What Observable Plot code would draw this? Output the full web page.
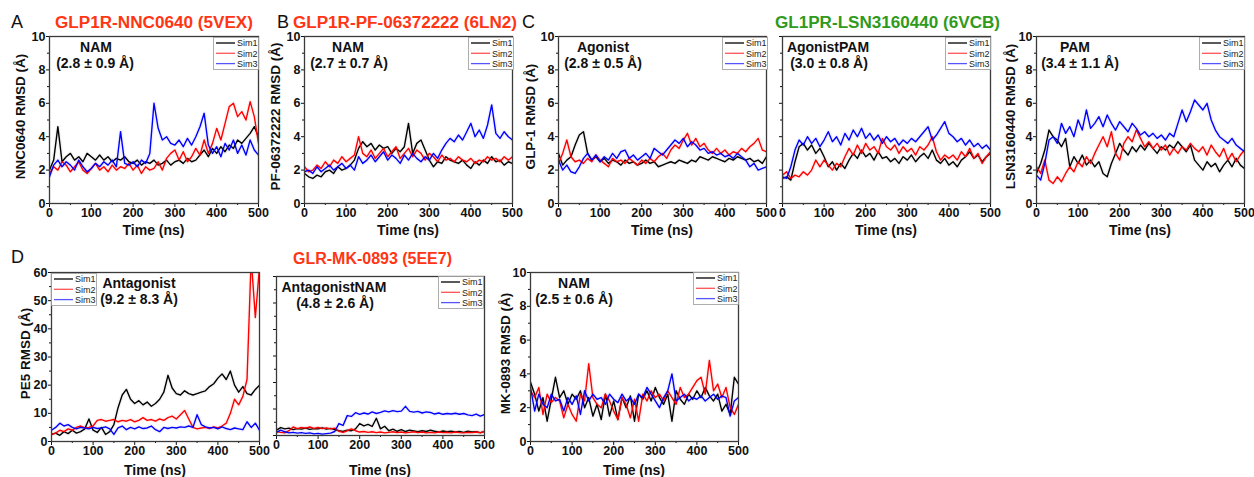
<!DOCTYPE html>
<html><head><meta charset="utf-8">
<script src="https://cdn.jsdelivr.net/npm/d3@7"></script>
<script src="https://cdn.jsdelivr.net/npm/@observablehq/plot@0.6"></script>
<style>
body{margin:0;background:#fff;}
#root{position:relative;width:1254px;height:477px;overflow:hidden;background:#fff;font-family:"Liberation Sans",Arial,sans-serif;}
.panel{position:absolute;}
#overlay{position:absolute;left:0;top:0;pointer-events:none;}
</style></head><body><div id="root"></div>
<script>
// ---------------- data (RMSD in Å, sampled every 10 ns) ----------------
const time = [0,10,20,30,40,50,60,70,80,90,100,110,120,130,140,150,160,170,180,190,200,210,220,230,240,250,260,270,280,290,300,310,320,330,340,350,360,370,380,390,400,410,420,430,440,450,460,470,480,490,500];
const simNames = ["Sim1","Sim2","Sim3"];

const A_sim1 = [2.0,2.6,4.6,2.5,2.8,3.0,2.6,2.8,2.5,3.0, 2.8,2.6,2.9,2.6,2.8,2.5,2.7,2.6,2.8,2.5, 2.4,2.6,2.3,2.5,2.4,2.6,2.3,2.4,2.6,2.3, 2.5,2.6,2.4,2.7,2.5,2.6,2.9,3.2,2.8,3.3, 3.0,3.4,3.1,3.5,3.3,3.8,3.6,3.9,4.2,4.6, 4.0];
const A_sim2 = [1.8,2.2,2.0,2.5,2.3,1.9,2.2,2.5,2.0,1.8, 2.1,2.4,2.0,2.2,1.9,2.3,2.0,2.2,2.1,2.4, 2.0,2.3,1.8,2.2,2.0,2.1,2.5,2.0,2.7,3.0, 3.2,2.6,3.1,2.5,2.8,3.3,2.9,3.8,3.0,3.6, 4.5,3.8,4.8,5.8,6.0,5.2,5.5,5.0,6.1,5.2, 3.6];
const A_sim3 = [1.6,2.3,2.6,2.2,2.5,2.3,2.0,2.6,2.2,1.9, 2.1,2.4,2.2,2.5,2.3,2.6,2.2,4.3,2.4,2.3, 2.5,2.2,2.6,2.4,3.0,6.0,4.5,3.8,4.0,3.6, 3.5,3.8,3.4,3.9,3.5,4.0,4.6,5.4,3.5,3.0, 3.4,2.8,3.6,3.2,3.8,3.0,3.5,2.9,3.8,3.2, 2.9];

const B_sim1 = [1.8,1.6,1.5,1.7,1.6,1.9,2.0,1.8,2.2,2.0, 2.1,2.3,2.6,3.3,3.7,3.4,3.6,3.2,3.5,3.3, 3.4,3.0,3.3,3.1,3.4,4.8,3.0,3.6,3.8,3.2, 2.6,2.2,2.5,2.4,2.8,2.6,2.5,2.4,2.6,2.3, 2.1,2.5,2.3,2.6,2.4,2.8,2.5,2.6,2.3,2.5, 2.4];
const B_sim2 = [2.2,1.9,2.0,2.3,2.1,2.5,2.2,2.6,2.4,2.8, 2.5,2.7,2.9,4.0,3.0,2.8,3.2,2.7,3.0,3.3, 2.8,3.1,3.4,2.7,3.0,3.3,2.8,3.2,3.0,2.6, 3.0,2.8,2.5,2.9,2.6,2.7,2.5,2.8,2.6,2.5, 2.7,2.4,2.6,2.5,2.8,2.6,2.7,2.5,2.8,2.6, 2.8];
const B_sim3 = [1.9,2.0,1.8,2.2,1.9,2.1,2.3,2.0,2.2,2.4, 2.1,2.3,2.0,2.8,2.4,2.6,2.9,2.5,2.8,3.1, 2.6,2.9,2.7,2.4,2.9,2.6,3.0,2.7,2.5,2.8, 2.6,3.0,2.7,3.2,3.6,3.9,3.7,4.1,3.8,4.3, 4.8,4.0,4.4,3.9,4.7,5.9,4.2,3.9,4.3,4.0, 3.8];

const C1_sim1 = [3.0,2.3,2.6,2.8,3.5,4.1,4.3,3.0,2.6,2.8, 2.5,2.7,2.4,2.6,2.5,2.3,2.6,2.4,2.5,2.3, 2.4,2.6,2.4,2.5,2.2,2.3,2.4,2.5,2.4,2.6, 2.5,2.4,2.6,2.5,2.8,2.7,2.6,2.8,2.7,2.6, 2.5,2.7,2.6,2.8,2.7,2.6,2.7,2.5,2.6,2.4, 2.8];
const C1_sim2 = [2.4,3.0,3.8,2.8,2.5,2.6,2.4,2.7,2.5,2.9, 2.6,2.4,2.2,2.7,2.5,2.6,2.4,2.7,2.5,2.3, 2.6,2.4,2.7,2.5,2.8,3.0,2.7,3.2,3.5,3.3, 3.8,4.2,3.5,3.9,3.4,3.6,3.2,3.0,3.3,3.0, 3.2,2.9,3.1,3.0,3.3,3.1,3.4,3.6,3.9,3.2, 3.1];
const C1_sim3 = [2.6,2.0,2.3,1.9,1.8,2.2,2.7,3.0,2.6,2.9, 2.5,2.8,2.6,3.0,2.7,3.1,3.2,2.7,2.9,2.6, 2.8,3.0,2.7,3.3,3.1,2.9,3.2,3.5,3.8,3.6, 3.9,3.4,3.7,3.5,3.2,3.3,3.0,3.1,2.9,3.0, 2.8,2.9,2.7,3.0,2.8,2.6,2.2,2.4,2.0,2.1, 2.2];

const C2_sim1 = [1.5,1.6,1.4,2.5,3.4,3.6,3.2,3.5,3.0,3.3, 2.8,2.2,2.5,2.0,2.4,2.1,2.6,3.0,2.7,3.2, 2.8,3.0,2.6,3.1,2.7,2.8,2.5,2.7,2.4,2.8, 2.6,2.9,2.5,2.8,3.0,2.7,3.2,2.6,2.4,2.7, 2.3,2.5,2.2,2.6,2.8,3.1,2.7,2.9,2.5,2.8, 3.0];
const C2_sim2 = [1.7,1.9,1.5,1.7,1.6,1.9,1.7,2.0,2.6,2.2, 2.6,2.3,2.0,2.4,2.2,2.8,3.3,2.9,3.5,3.0, 3.6,3.2,3.4,3.0,3.9,3.4,3.2,3.5,3.0,3.4, 3.1,3.3,2.9,3.4,3.2,3.5,4.0,3.1,2.6,2.9, 2.7,2.9,2.6,3.1,2.8,3.3,2.7,3.0,2.4,2.8, 3.1];
const C2_sim3 = [1.6,1.5,2.2,3.2,3.8,3.5,4.0,3.6,3.9,3.4, 3.8,4.3,3.7,4.0,3.5,4.2,3.8,4.4,4.0,4.5, 3.9,4.2,3.8,4.1,3.6,4.0,3.7,3.9,3.5,3.8, 3.6,3.9,3.7,4.0,4.3,4.6,3.8,4.1,4.5,4.9, 4.2,4.0,3.7,3.9,3.5,3.8,3.4,3.6,3.3,3.5, 3.2];

const C3_sim1 = [1.8,2.4,3.2,4.4,4.0,3.8,3.4,3.9,2.2,2.8, 2.4,2.9,2.3,2.6,2.2,2.5,1.8,1.6,2.4,3.0, 3.6,3.2,2.9,3.4,3.1,3.5,3.2,3.6,3.3,3.0, 3.4,3.2,3.5,3.3,3.7,3.4,3.1,3.5,2.6,2.3, 2.0,2.5,2.2,2.4,1.9,2.3,2.6,2.2,2.7,2.3, 2.1];
const C3_sim2 = [2.2,1.8,2.6,1.4,1.2,1.6,1.3,1.8,2.2,1.9, 2.5,2.2,2.8,2.4,3.0,3.5,4.0,3.4,4.3,3.0, 2.6,3.6,4.0,3.7,4.4,3.9,3.4,3.7,3.3,3.6, 3.2,3.5,2.9,3.3,3.0,3.4,3.2,3.6,3.3,3.1, 3.4,2.9,3.5,3.1,2.8,3.3,2.6,3.0,2.5,2.9, 3.2];
const C3_sim3 = [1.7,1.4,2.4,3.8,4.0,3.6,4.8,4.2,4.6,4.0, 5.0,4.4,5.6,4.5,4.8,5.2,4.6,5.3,4.8,4.4, 4.9,4.6,4.3,4.8,4.5,4.1,4.3,4.0,4.2,3.9, 4.1,3.8,4.2,4.0,4.8,5.6,4.9,5.5,6.2,5.9, 5.6,6.0,5.0,4.4,4.0,3.8,3.6,3.9,3.5,3.3, 3.1];

const D1_sim1 = [2.5,3.0,2.2,3.5,2.8,4.0,3.0,3.5,4.5,8.0, 4.0,3.2,5.0,2.5,3.5,6.0,12.0,16.5,18.5,15.0, 13.5,14.5,13.0,14.0,12.5,13.5,15.0,17.5,23.5,19.0, 17.0,16.5,18.0,17.0,16.5,17.0,17.5,18.0,19.5,20.5, 22.5,24.0,22.0,25.0,20.0,17.5,19.5,17.0,16.5,18.5, 20.0];
const D1_sim2 = [2.5,3.0,4.0,3.5,4.5,4.0,5.0,5.5,4.8,5.0, 5.5,7.5,7.8,7.2,7.5,7.8,7.0,7.5,7.2,7.8, 7.0,7.5,8.5,7.5,7.8,7.2,8.0,7.5,8.5,9.0, 8.0,9.5,11.0,8.0,5.0,4.5,4.8,5.0,4.6,5.2, 4.8,5.5,6.5,10.0,15.0,13.0,16.0,22.0,65.0,44.0, 62.0];
const D1_sim3 = [4.0,5.0,6.5,5.5,6.0,5.0,4.5,5.0,4.8,4.5, 5.0,4.6,4.8,5.2,4.5,2.5,4.8,5.5,4.2,5.0, 4.5,5.2,4.6,4.8,5.5,4.2,3.5,5.0,4.6,5.0, 4.8,5.2,5.0,5.5,5.0,9.5,6.0,5.2,4.8,5.0, 4.5,5.2,4.6,4.2,4.8,4.5,4.2,7.0,5.0,6.5, 4.0];

const D2_sim1 = [2.0,3.0,2.5,2.8,2.2,2.6,2.4,2.8,2.3,2.6, 2.5,2.9,2.4,2.7,2.2,1.8,1.5,2.0,1.8,2.5, 4.5,3.6,4.2,3.4,6.5,2.5,3.5,1.8,2.4,1.6, 2.2,1.5,2.0,1.7,1.4,1.8,1.5,2.0,1.6,1.3, 1.7,1.4,1.6,1.3,1.5,1.2,1.6,1.3,1.4,1.1, 1.5];
const D2_sim2 = [1.5,1.2,1.0,1.8,3.2,2.6,3.0,2.8,3.2,2.7, 3.0,2.6,2.9,2.5,2.8,1.6,1.2,1.8,2.5,1.8, 1.3,1.5,1.2,1.4,1.1,1.3,1.0,1.2,1.4,1.1, 1.3,1.0,1.2,1.4,1.1,1.3,1.0,1.2,1.0,1.3, 1.1,1.2,1.0,1.3,1.1,1.0,1.2,1.1,1.3,1.0, 1.6];
const D2_sim3 = [1.2,2.0,1.4,1.0,1.2,0.9,1.1,0.8,1.0,0.6, 0.8,0.5,0.7,0.9,1.5,4.5,3.8,7.5,7.2,8.6, 8.0,8.5,8.1,8.9,8.3,8.7,9.3,8.9,9.4,9.0, 9.2,11.0,9.1,8.8,9.1,8.5,8.9,8.7,8.1,8.5, 8.0,8.3,8.1,8.4,8.0,8.3,7.8,7.5,8.1,7.3, 7.9];

const D3_sim1 = [3.5,2.8,1.8,2.6,1.2,2.5,3.8,2.6,3.0,2.2, 2.8,2.5,3.0,2.0,2.6,1.5,2.2,1.3,2.8,1.5, 2.4,1.3,2.6,2.0,2.7,1.2,2.8,2.5,3.0,2.4, 3.2,2.6,2.2,2.8,1.2,3.0,2.5,2.2,2.8,2.5, 3.0,2.6,3.2,2.7,2.4,2.8,1.8,2.2,1.6,3.8, 3.4];
const D3_sim2 = [3.0,2.6,3.2,1.6,2.8,2.3,2.6,2.4,1.4,2.2, 1.6,1.2,2.8,2.4,4.6,2.6,2.2,2.0,2.8,2.4, 1.8,1.3,2.6,2.2,1.4,2.5,1.2,2.8,2.4,3.0, 2.6,2.8,2.4,3.0,2.6,2.2,3.2,2.6,2.8,3.2, 3.6,3.8,2.8,4.8,3.0,3.4,2.6,3.2,2.0,1.6, 2.2];
const D3_sim3 = [3.2,1.8,2.8,2.2,2.0,2.8,2.4,2.5,1.8,2.6, 2.2,2.7,1.6,3.0,2.4,2.8,2.5,2.6,2.2,2.8, 2.5,2.3,2.8,2.4,2.6,2.2,2.8,2.6,3.2,2.8, 2.4,2.0,2.6,3.0,4.0,2.4,2.6,2.8,2.4,2.6, 2.5,2.7,2.4,2.6,2.8,2.5,2.7,2.6,1.5,2.4, 2.6];

// tick values
const xMajor = [0,100,200,300,400,500];
const xMinor = [50,150,250,350,450];
const yMajor10 = [0,2,4,6,8,10];
const yMinor10 = [1,3,5,7,9];
const yMajor60 = [0,10,20,30,40,50,60];
const yMinor60 = [5,15,25,35,45,55];

// text content
const yLabels = {A:"NNC0640 RMSD (Å)", B:"PF-06372222 RMSD (Å)", C1:"GLP-1 RMSD (Å)", C2:"", C3:"LSN3160440 RMSD (Å)", D1:"PE5 RMSD (Å)", D2:"", D3:"MK-0893 RMSD (Å)"};
const states = {A:["NAM","(2.8 ± 0.9 Å)"], B:["NAM","(2.7 ± 0.7 Å)"], C1:["Agonist","(2.8 ± 0.5 Å)"], C2:["AgonistPAM","(3.0 ± 0.8 Å)"], C3:["PAM","(3.4 ± 1.1 Å)"], D1:["Antagonist","(9.2 ± 8.3 Å)"], D2:["AntagonistNAM","(4.8 ± 2.6 Å)"], D3:["NAM","(2.5 ± 0.6 Å)"]};
const titles = ["GLP1R-NNC0640 (5VEX)","GLP1R-PF-06372222 (6LN2)","GL1PR-LSN3160440 (6VCB)","GLR-MK-0893 (5EE7)"];
const letters = ["A","B","C","D"];

// ---------------- layout ----------------
const RED = "#ff3514", GREEN = "#2f9a1c";
const lineColors = ["#000000","#ff0000","#0000ff"];
const haloColors = ["#9a9a9a","#ff8080","#8080ff"];
const legendColors = ["#000000","#ff5555","#5555ff"];
const panels = [
  {id:"A",  fx0:49,   fy0:36,  fx1:258,  fy1:203, ymax:10, yMaj:yMajor10, yMin:yMinor10, series:[A_sim1,A_sim2,A_sim3],  ann:[96,95],   leg:[213,37], ylx:20},
  {id:"B",  fx0:304,  fy0:36,  fx1:512,  fy1:203, ymax:10, yMaj:yMajor10, yMin:yMinor10, series:[B_sim1,B_sim2,B_sim3],  ann:[348,349], leg:[468,37], ylx:275},
  {id:"C1", fx0:558,  fy0:36,  fx1:766,  fy1:203, ymax:10, yMaj:yMajor10, yMin:yMinor10, series:[C1_sim1,C1_sim2,C1_sim3], ann:[603,603], leg:[722,37], ylx:530},
  {id:"C2", fx0:782,  fy0:36,  fx1:990,  fy1:203, ymax:10, yMaj:yMajor10, yMin:yMinor10, series:[C2_sim1,C2_sim2,C2_sim3], ann:[828,829], leg:[945,37], ylx:0},
  {id:"C3", fx0:1036, fy0:36,  fx1:1244, fy1:203, ymax:10, yMaj:yMajor10, yMin:yMinor10, series:[C3_sim1,C3_sim2,C3_sim3], ann:[1075,1080], leg:[1199,37], ylx:1010},
  {id:"D1", fx0:51,   fy0:272, fx1:259,  fy1:441, ymax:60, yMaj:yMajor60, yMin:yMinor60, series:[D1_sim1,D1_sim2,D1_sim3], ann:[139,139], leg:[51,273], ylx:25},
  {id:"D2", fx0:276,  fy0:276, fx1:484,  fy1:435, ymax:60, yMaj:yMajor60, yMin:yMinor60, series:[D2_sim1,D2_sim2,D2_sim3], ann:[334,335], leg:[438,276], ylx:0},
  {id:"D3", fx0:530,  fy0:272, fx1:738,  fy1:441, ymax:10, yMaj:yMajor10, yMin:yMinor10, series:[D3_sim1,D3_sim2,D3_sim3], ann:[574,574], leg:[693,272], ylx:505}
];

const root = document.getElementById("root");
const FONT = '"Liberation Sans", Arial, sans-serif';

for (const p of panels) {
  const ML = 40, MR = 6, MT = 6, MB = 22;
  const W = p.fx1 - p.fx0 + ML + MR, H = p.fy1 - p.fy0 + MT + MB;
  const showY = yLabels[p.id] !== "";
  const tables = p.series.map((arr, k) => arr.map((v, i) => ({t: time[i], v, sim: simNames[k]})));
  const marks = [
    Plot.axisX({ticks: xMinor, tickSize: 2, tickFormat: () => "", label: null}),
    Plot.axisX({ticks: xMajor, tickSize: 4, tickPadding: 1, label: null}),
    Plot.axisY({ticks: p.yMin, tickSize: 2, tickFormat: () => "", label: null}),
    Plot.axisY({ticks: p.yMaj, tickSize: 3, tickPadding: 1, label: null, tickFormat: showY ? (d => String(d)) : (() => "")})
  ];
  tables.forEach((tb, k) => marks.push(Plot.line(tb, {x: "t", y: "v", stroke: haloColors[k], strokeWidth: 4, strokeOpacity: 0.12, clip: true})));
  tables.forEach((tb, k) => marks.push(Plot.line(tb, {x: "t", y: "v", stroke: lineColors[k], strokeWidth: 1.4, clip: true})));
  marks.push(Plot.frame({stroke: "#3a3a3a", strokeWidth: 1.3}));
  const chart = Plot.plot({
    width: W, height: H, marginLeft: ML, marginRight: MR, marginTop: MT, marginBottom: MB,
    x: {domain: [0, 500]}, y: {domain: [0, p.ymax]},
    style: {fontFamily: FONT, fontSize: "12.5px", fontWeight: "bold", color: "#111", background: "transparent", overflow: "visible"},
    marks
  });
  const div = document.createElement("div");
  div.className = "panel";
  div.style.left = (p.fx0 - ML) + "px";
  div.style.top = (p.fy0 - MT) + "px";
  div.style.width = W + "px";
  div.appendChild(chart);
  root.appendChild(div);
}

// ---------------- overlay text ----------------
const svg = d3.select(root).append("svg").attr("id", "overlay").attr("width", 1254).attr("height", 477)
  .style("font-family", FONT);

const titleSpecs = [
  {x0:55, x1:253, y:28, c:RED}, {x0:293, x1:517, y:28, c:RED},
  {x0:775, x1:1000, y:28, c:GREEN}, {x0:293, x1:452, y:264, c:RED}
];
titles.forEach((t, i) => {
  const s = titleSpecs[i];
  svg.append("text").text(t).attr("x", s.x0).attr("y", s.y).attr("fill", s.c)
    .attr("font-size", 16).attr("font-weight", "bold")
    .attr("textLength", s.x1 - s.x0).attr("lengthAdjust", "spacingAndGlyphs");
});
const letterPos = [[11,28],[277,28],[522,28],[11,263]];
letters.forEach((l, i) => svg.append("text").text(l).attr("x", letterPos[i][0]).attr("y", letterPos[i][1])
  .attr("font-size", 18).attr("fill", "#111"));

for (const p of panels) {
  const [s1, s2] = states[p.id];
  const top = p.fy0;
  svg.append("text").text(s1).attr("x", p.ann[0]).attr("y", top + 16).attr("text-anchor", "middle")
    .attr("font-size", 14).attr("font-weight", "bold").attr("fill", "#111");
  svg.append("text").text(s2).attr("x", p.ann[1]).attr("y", top + 32).attr("text-anchor", "middle")
    .attr("font-size", 14).attr("font-weight", "bold").attr("fill", "#111");
  // x label
  const xlY = p.fy1 > 300 ? p.fy1 + 34 : p.fy1 + 32;
  svg.append("text").text("Time (ns)").attr("x", (p.fx0 + p.fx1) / 2).attr("y", p.id === "D2" ? 475 : xlY)
    .attr("text-anchor", "middle").attr("font-size", 14).attr("font-weight", "bold").attr("fill", "#111");
  // y label
  if (yLabels[p.id]) {
    const cy = (p.fy0 + p.fy1) / 2 - 3;
    svg.append("text").text(yLabels[p.id]).attr("transform", `translate(${p.ylx},${cy}) rotate(-90)`)
      .attr("dy", "0.35em").attr("text-anchor", "middle").attr("font-size", 13.5).attr("font-weight", "bold").attr("fill", "#111");
  }
  // legend
  const [lx, ly] = p.leg;
  const lw = 45, lh = 32;
  svg.append("rect").attr("x", lx + 0.5).attr("y", ly + 0.5).attr("width", lw).attr("height", lh)
    .attr("fill", "#fff").attr("stroke", "#999").attr("stroke-width", 0.8);
  simNames.forEach((n, k) => {
    const yy = ly + 6 + k * 10.3;
    svg.append("line").attr("x1", lx + 3).attr("x2", lx + 22).attr("y1", yy).attr("y2", yy)
      .attr("stroke", legendColors[k]).attr("stroke-width", 1.3);
    svg.append("text").text(n).attr("x", lx + 24).attr("y", yy + 3.2).attr("font-size", 9).attr("fill", "#222");
  });
}
</script>
</body></html>
